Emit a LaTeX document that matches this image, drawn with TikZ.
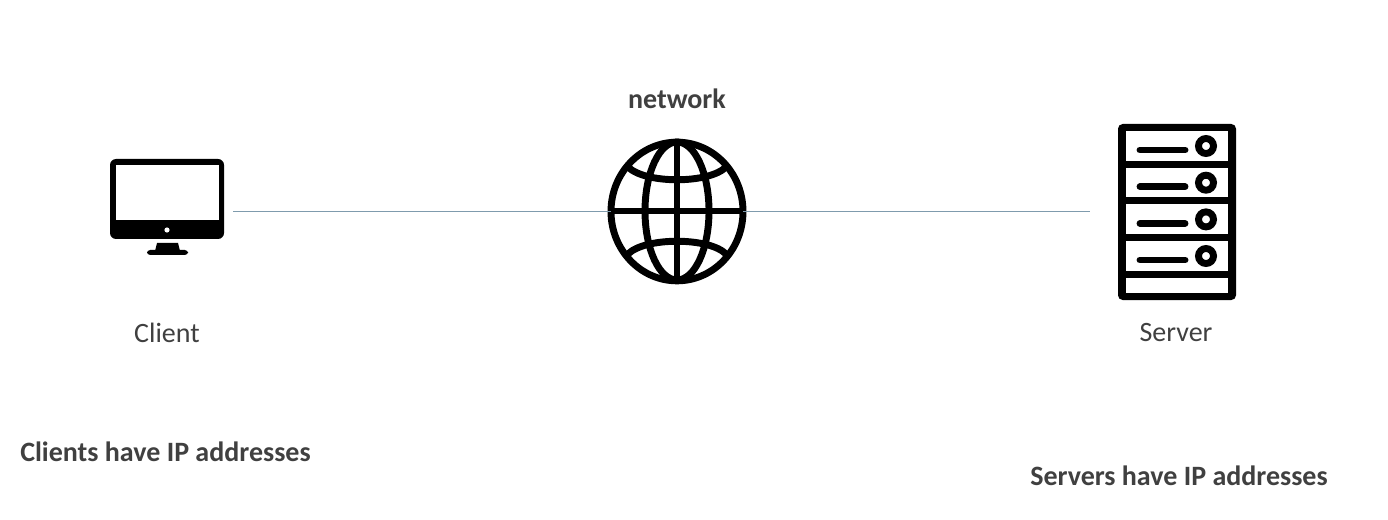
\documentclass[tikz,border=0pt]{standalone}
\usepackage{fontspec}
\setmainfont{Carlito}
\usetikzlibrary{shapes.geometric}
\definecolor{txt}{HTML}{404040}
\definecolor{linkc}{HTML}{7F9BAD}
\tikzset{
  lbl/.style={text=txt,font=\fontsize{21}{25}\selectfont,inner sep=0pt,anchor=center},
  head/.style={text=txt,font=\fontsize{21}{25}\selectfont\bfseries,inner sep=0pt,anchor=center},
  link/.style={draw=linkc,line width=0.7pt},
  icon/.style={draw=black,line width=5.2pt},
  iconfill/.style={fill=black,draw=none},
  blade/.style={fill=white,draw=none},
}
\begin{document}
\begin{tikzpicture}[x=0.75pt,y=-0.75pt]
\useasboundingbox (0,0) rectangle (1388,520);
\fill[white] (0,0) rectangle (1388,520);
% connectors
\coordinate (clientport) at (233,211.5);
\coordinate (serverport) at (1090,211.5);
\node[ellipse,draw=black,line width=5.2pt,minimum width=99pt,minimum height=104pt,inner sep=0pt,outer sep=0pt,fill=white] (globe) at (677,211.5) {};
\draw[link] (clientport) -- (globe.west);
\draw[link] (globe.east) -- (serverport);
% globe lines
\begin{scope}[icon]
\draw (677,142) -- (677,280);
\draw (612,211) -- (742,211);
\draw (677,211) ellipse [x radius=32,y radius=69];
\draw (628,167) .. controls (645,184) and (709,184) .. (726,167);
\draw (628,254) .. controls (645,237) and (709,237) .. (726,254);
\end{scope}
% monitor
\fill[iconfill,rounded corners=4.5pt] (110,159) rectangle (224,239);
\fill[white] (116,165) rectangle (219,220);
\fill[white] (167,230) circle [radius=2.6];
\fill[iconfill] (157,243) -- (178,243) -- (180,251) -- (155,251) -- cycle;
\fill[iconfill,rounded corners=2.4pt] (147,250) rectangle (188,255);
% server
\fill[iconfill,rounded corners=3.5pt] (1118,124) rectangle (1236,300);
\foreach \t/\b in {131/161,168/197,204/234,241/271,278/293}
  \fill[blade] (1126,\t) rectangle (1228,\b);
\foreach \d in {0,36.7,73.4,110}{
  \draw[black,line width=5.2pt,line cap=round] (1140,150+\d) -- (1185,150+\d);
  \draw[black,line width=5.2pt] (1206,146+\d) circle [radius=7.5];
}
% labels
\node[lbl] (client) at (167,333) {Client};
\node[lbl] (server) at (1176,333) {Server};
\node[head] (network) at (677,99) {network};
\node[head,anchor=west] (clientsip) at (20,452) {Clients have IP addresses};
\node[head,anchor=west] (serversip) at (1030,476) {Servers have IP addresses};
\end{tikzpicture}
\end{document}
